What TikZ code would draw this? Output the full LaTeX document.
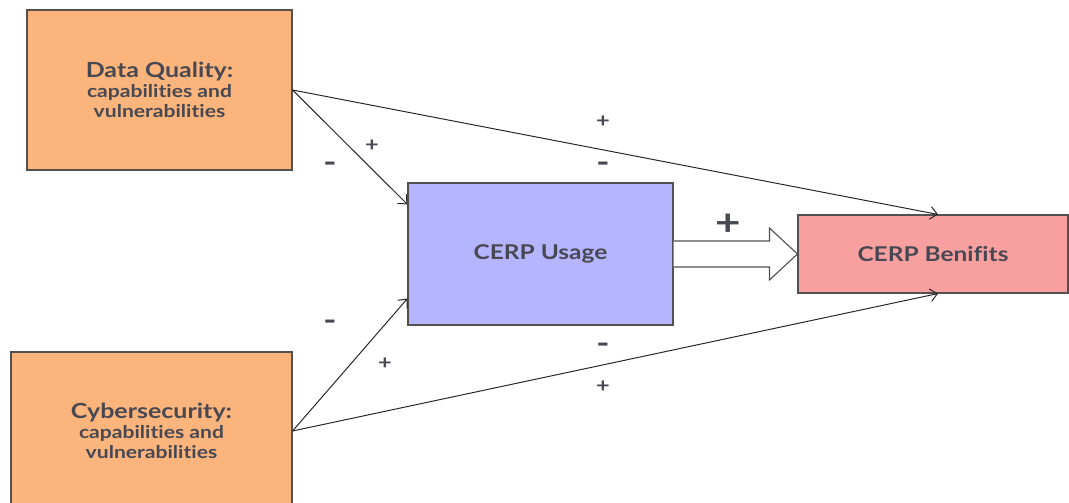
\documentclass[tikz,border=0pt]{standalone}
\usepackage{fontspec}
\setmainfont{Lato}[FakeStretch=1.2, Ligatures=NoCommon]
\usetikzlibrary{arrows.meta,calc}
\definecolor{cporange}{RGB}{251,180,124}
\definecolor{cplavender}{RGB}{180,180,255}
\definecolor{cppink}{RGB}{248,160,160}
\definecolor{cpborder}{RGB}{85,80,80}
\definecolor{cptext}{RGB}{72,72,82}

\newcommand{\subline}[1]{{\fontsize{12.5}{14.2}\selectfont #1}}

\begin{document}
\begin{tikzpicture}[
  x=0.025cm, y=-0.025cm,
  factor/.style={rectangle, draw=cpborder, fill=cporange, line width=0.8pt, align=center, text=cptext, font=\bfseries\fontsize{14.8}{14.2}\selectfont},
  cerp/.style={rectangle, draw=cpborder, line width=0.8pt, align=center, text=cptext, font=\bfseries\fontsize{14.5}{18}\selectfont},
  link/.style={-{Straight Barb[length=5pt,width=9pt]}, line width=0.7pt, color=black!85},
  sign/.style={text=cptext, font=\bfseries\fontsize{14}{16}\selectfont, inner sep=0pt},
  minus/.style={sign, font=\bfseries\fontsize{21}{24}\selectfont}
]
\useasboundingbox (0,0) rectangle (1069,503);

% Left column - factors
\node[factor, minimum width=265*0.025cm, minimum height=160*0.025cm] (dq) at (159.5,90)
  {Data Quality:\\\subline{capabilities and}\\\subline{vulnerabilities}};
\node[factor, minimum width=281*0.025cm, minimum height=158*0.025cm] (cyber) at (151.5,431)
  {Cybersecurity:\\\subline{capabilities and}\\\subline{vulnerabilities}};

% Middle and right - CERP
\node[cerp, fill=cplavender, minimum width=265*0.025cm, minimum height=142*0.025cm] (usage) at (540.5,254) {CERP Usage};
\node[cerp, fill=cppink, minimum width=270*0.025cm, minimum height=78*0.025cm] (ben) at (933,254) {CERP Benifits};

% Arrows
\draw[link] (dq.east) -- ($(usage.north west)+(0,22)$);
\draw[link] (dq.east) -- ($(ben.north)+(5,0)$);
\draw[link] (cyber.east) -- ($(usage.south west)+(0,-27)$);
\draw[link] (cyber.east) -- ($(ben.south)+(5,0)$);

% Hollow arrow
\draw[draw=cpborder, fill=white, line width=0.8pt]
  ($(usage.east)+(0,-13)$) -- ($(ben.west)+(-28,-13)$) -- ($(ben.west)+(-28,-26)$)
  -- (ben.west) -- ($(ben.west)+(-28,26)$) -- ($(ben.west)+(-28,13)$) -- ($(usage.east)+(0,13)$);

% Signs
\node[minus] (s1) at (330,167) {-};
\node[sign] (s2) at (372,146) {+};
\node[sign] (s3) at (603,122) {+};
\node[minus] (s4) at (603,167) {-};
\node[sign, font=\bfseries\fontsize{26}{30}\selectfont] (s5) at (728,225) {+};
\node[minus] (s6) at (330,325) {-};
\node[sign] (s7) at (385,364) {+};
\node[minus] (s8) at (603,348) {-};
\node[sign] (s9) at (603,387) {+};

\end{tikzpicture}
\end{document}
